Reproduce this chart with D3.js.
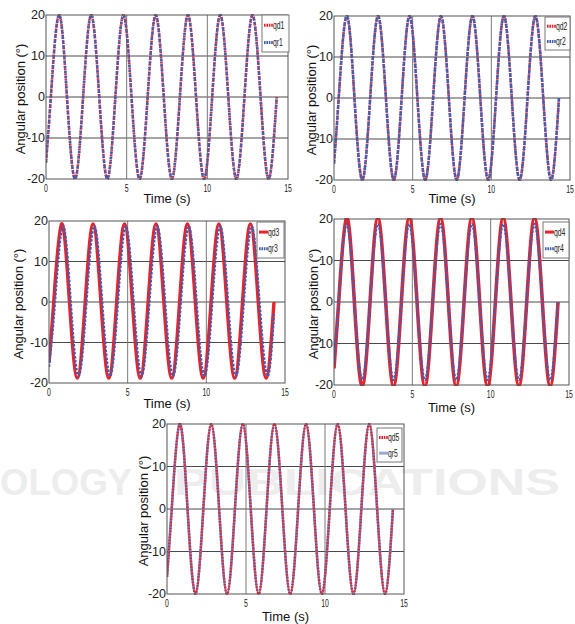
<!DOCTYPE html>
<html>
<head>
<meta charset="utf-8">
<script src="https://cdn.jsdelivr.net/npm/d3@7"></script>
<style>
  body { margin: 0; background: #fff; }
  svg { display: block; }
</style>
</head>
<body>
<svg id="chart" width="575" height="624"></svg>
<script>
// ticks
var timeTicks = [0, 5, 10, 15];
var angleTicks = [-20, -10, 0, 10, 20];

// time of the key points (start, zero crossings, peaks, troughs, end)
var tKey = [0, 0.3, 0.8, 1.3, 1.8, 2.3, 2.8, 3.3, 3.8, 4.3, 4.8, 5.3, 5.8, 6.3, 6.8,
            7.3, 7.8, 8.3, 8.8, 9.3, 9.8, 10.3, 10.8, 11.3, 11.8, 12.3, 12.8, 13.3, 13.8, 14.3];
// qr3 lags a little behind qd3
var tLag3 = [0, 0.38, 0.88, 1.38, 1.88, 2.38, 2.88, 3.38, 3.88, 4.38, 4.88, 5.38, 5.88, 6.38, 6.88,
             7.38, 7.88, 8.38, 8.88, 9.38, 9.88, 10.38, 10.88, 11.38, 11.88, 12.38, 12.88, 13.38, 13.88, 14.3];

var qd1 = [-16, 0,20,0,-20, 0,20,0,-20, 0,20,0,-20, 0,20,0,-20, 0,20,0,-20, 0,20,0,-20, 0,20,0,-20, 0];
var qr1 = [-16, 0,20,0,-20, 0,20,0,-20, 0,20,0,-20, 0,20,0,-20, 0,20,0,-20, 0,20,0,-20, 0,20,0,-20, 0];
var qd2 = [-16, 0,20,0,-20, 0,20,0,-20, 0,20,0,-20, 0,20,0,-20, 0,20,0,-20, 0,20,0,-20, 0,20,0,-20, 0];
var qr2 = [-16, 0,20,0,-20, 0,20,0,-20, 0,20,0,-20, 0,20,0,-20, 0,20,0,-20, 0,20,0,-20, 0,20,0,-20, 0];
var qd3 = [-15, 0,19.3,0,-18.8, 0,19.3,0,-18.8, 0,19.3,0,-18.8, 0,19.3,0,-18.8, 0,19.3,0,-18.8, 0,19.3,0,-18.8, 0,19.3,0,-18.8, 0];
var qr3 = [-16, 0,18.7,0,-18.3, 0,18.7,0,-18.3, 0,18.7,0,-18.3, 0,18.7,0,-18.3, 0,18.7,0,-18.3, 0,18.7,0,-18.3, 0,18.7,0,-18.3, -3];
var qd4 = [-16, 0,20.3,0,-20.3, 0,20.3,0,-20.3, 0,20.3,0,-20.3, 0,20.3,0,-20.3, 0,20.3,0,-20.3, 0,20.3,0,-20.3, 0,20.3,0,-20.3, 0];
var qr4 = [-15, 0,18.8,0,-18.8, 0,18.8,0,-18.8, 0,18.8,0,-18.8, 0,18.8,0,-18.8, 0,18.8,0,-18.8, 0,18.8,0,-18.8, 0,18.8,0,-18.8, 0];
var qd5 = [-16, 0,20,0,-20, 0,20,0,-20, 0,20,0,-20, 0,20,0,-20, 0,20,0,-20, 0,20,0,-20, 0,20,0,-20, 0];
var qr5 = [-16, 0,20,0,-20, 0,20,0,-20, 0,20,0,-20, 0,20,0,-20, 0,20,0,-20, 0,20,0,-20, 0,20,0,-20, 0];

var RED = "#e8232b", BLUE = "#3f5fb4", MIDBLUE = "#6b7fc4";

// series styles: drawn in list order
var panels = [
    {box: {l: 46, r: 288, t: 15, b: 179}, ylabX: 20, xlabY: 203, leg: {x: 262, y: 15, w: 27, h: 37},
     series: [
        {name: "qd1", t: tKey, v: qd1, color: RED, width: 2.6, dash: "1.6,1"},
        {name: "qr1", t: tKey, v: qr1, color: BLUE, width: 2.4, dash: "3,2"}]},
    {box: {l: 334, r: 570, t: 16, b: 180}, ylabX: 311, xlabY: 203, leg: {x: 545, y: 17, w: 25, h: 33},
     series: [
        {name: "qd2", t: tKey, v: qd2, color: RED, width: 2.6, dash: "1.6,1"},
        {name: "qr2", t: tKey, v: qr2, color: BLUE, width: 2.4, dash: "4,1.5"}]},
    {box: {l: 49, r: 285, t: 221, b: 383}, ylabX: 18, xlabY: 408, leg: {x: 257, y: 222, w: 27, h: 36},
     series: [
        {name: "qd3", t: tKey, v: qd3, color: RED, width: 3.4, dash: null},
        {name: "qr3", t: tLag3, v: qr3, color: BLUE, width: 2.4, dash: "2.5,1.5"}]},
    {box: {l: 334, r: 569, t: 219, b: 385}, ylabX: 313, xlabY: 412, leg: {x: 543, y: 222, w: 26, h: 36},
     series: [
        {name: "qd4", t: tKey, v: qd4, color: RED, width: 3.6, dash: null},
        {name: "qr4", t: tKey, v: qr4, color: BLUE, width: 2.4, dash: "2.5,1.5"}]},
    {box: {l: 167, r: 404, t: 424, b: 594}, ylabX: 143, xlabY: 621, leg: {x: 377, y: 428, w: 25, h: 34},
     series: [
        {name: "qr5", t: tKey, v: qr5, color: MIDBLUE, width: 2.6, dash: null, legOrder: 1},
        {name: "qd5", t: tKey, v: qd5, color: RED, width: 2.4, dash: "1.6,1.4", legOrder: 0}]}
];

var svg = d3.select("#chart");
var FONT = "'Liberation Sans', Arial, sans-serif";

// faint publisher watermark behind the figure
svg.append("text")
    .attr("x", 0).attr("y", 495)
    .attr("textLength", 132).attr("lengthAdjust", "spacingAndGlyphs")
    .style("font-family", FONT).style("font-weight", "bold").style("font-size", "37px")
    .style("fill", "#ededed")
    .text("OLOGY");
svg.append("text")
    .attr("x", 174).attr("y", 495)
    .attr("textLength", 386).attr("lengthAdjust", "spacingAndGlyphs")
    .style("font-family", FONT).style("font-weight", "bold").style("font-size", "37px")
    .style("fill", "#ededed")
    .text("PUBLICATIONS");

panels.forEach(function(p, i) {
    var b = p.box;
    var x = d3.scaleLinear().domain([0, 15]).range([b.l, b.r]);
    var y = d3.scaleLinear().domain([-20, 20]).range([b.b, b.t]);
    var g = svg.append("g");

    // grid
    g.append("g").selectAll("line")
        .data(angleTicks.filter(function(d) { return d > -20 && d < 20; }))
        .enter().append("line")
        .attr("x1", b.l).attr("x2", b.r)
        .attr("y1", function(d) { return y(d); }).attr("y2", function(d) { return y(d); })
        .attr("stroke", "#4a4a4a").attr("stroke-width", 1);
    g.append("g").selectAll("line")
        .data(timeTicks.filter(function(d) { return d > 0 && d < 15; }))
        .enter().append("line")
        .attr("y1", b.t).attr("y2", b.b)
        .attr("x1", function(d) { return x(d); }).attr("x2", function(d) { return x(d); })
        .attr("stroke", "#7a7a7a").attr("stroke-width", 1);

    // curves
    g.append("clipPath").attr("id", "clip" + i)
        .append("rect").attr("x", b.l).attr("y", b.t - 1)
        .attr("width", b.r - b.l).attr("height", b.b - b.t + 2);
    var line = d3.line()
        .x(function(d) { return x(d[0]); })
        .y(function(d) { return y(d[1]); })
        .curve(d3.curveNatural);
    p.series.forEach(function(s) {
        g.append("path")
            .datum(d3.zip(s.t, s.v))
            .attr("clip-path", "url(#clip" + i + ")")
            .attr("d", line)
            .attr("fill", "none")
            .attr("stroke", s.color)
            .attr("stroke-width", s.width)
            .attr("stroke-dasharray", s.dash);
    });

    // frame
    g.append("rect")
        .attr("x", b.l).attr("y", b.t)
        .attr("width", b.r - b.l).attr("height", b.b - b.t)
        .attr("fill", "none").attr("stroke", "#555").attr("stroke-width", 1);

    // y tick labels
    g.append("g").selectAll("text")
        .data(angleTicks).enter().append("text")
        .attr("x", b.l - 1)
        .attr("y", function(d) { return y(d) + 4; })
        .attr("text-anchor", "end")
        .style("font-family", FONT).style("font-size", "12.5px").style("fill", "#222")
        .text(function(d) { return d; });

    // x tick labels (narrow font)
    g.append("g").selectAll("text")
        .data(timeTicks).enter().append("text")
        .attr("transform", function(d) { return "translate(" + x(d) + "," + (b.b + 13) + ") scale(0.6,1)"; })
        .attr("text-anchor", "middle")
        .style("font-family", FONT).style("font-size", "11.5px").style("fill", "#222")
        .text(function(d) { return d; });

    // axis titles
    g.append("text")
        .attr("x", (b.l + b.r) / 2).attr("y", p.xlabY)
        .attr("text-anchor", "middle")
        .style("font-family", FONT).style("font-size", "13px").style("fill", "#111")
        .text("Time (s)");
    g.append("text")
        .attr("transform", "translate(" + p.ylabX + "," + ((b.t + b.b) / 2 + 2) + ") rotate(-90)")
        .attr("text-anchor", "middle").attr("dy", "0.35em")
        .style("font-family", FONT).style("font-size", "13px").style("fill", "#111")
        .text("Angular position (\u00b0)");

    // legend
    var L = p.leg;
    var lg = g.append("g").attr("transform", "translate(" + L.x + "," + L.y + ")");
    lg.append("rect").attr("width", L.w).attr("height", L.h)
        .attr("fill", "#fff").attr("stroke", "#777").attr("stroke-width", 1);
    p.series.forEach(function(s, k) {
        var row = s.legOrder !== undefined ? s.legOrder : k;
        var yy = L.h * (row === 0 ? 0.28 : 0.74);
        lg.append("line")
            .attr("x1", 2).attr("x2", 11).attr("y1", yy).attr("y2", yy)
            .attr("stroke", s.name === "qr5" ? "#9aa8d8" : s.color).attr("stroke-width", 3)
            .attr("stroke-dasharray", s.dash ? "1.6,0.8" : null);
        lg.append("text")
            .attr("transform", "translate(11," + (yy + 3.5) + ") scale(0.62,1)")
            .style("font-family", FONT).style("font-size", "11px").style("fill", "#222")
            .text(s.name);
    });
});
</script>
</body>
</html>
